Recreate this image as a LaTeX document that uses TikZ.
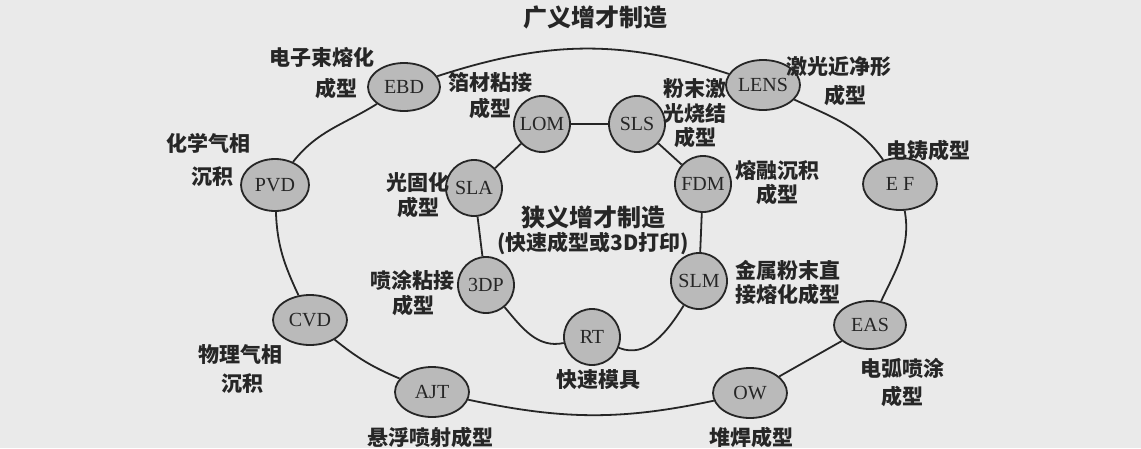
\documentclass[tikz,border=0pt]{standalone}
\usepackage{fontspec}
\setmainfont{Liberation Serif}
\newfontfamily\cjk{Noto Sans CJK SC}
\usetikzlibrary{shapes.geometric}
\definecolor{bgcol}{RGB}{234,234,234}
\definecolor{nodefill}{RGB}{186,186,186}
\definecolor{ink}{RGB}{38,38,38}
\tikzset{
  outernode/.style={ellipse, draw=ink, line width=1.8pt, fill=nodefill, inner sep=0pt,
    font=\fontsize{20}{20}\selectfont, text=ink},
  innernode/.style={circle, draw=ink, line width=1.8pt, fill=nodefill, inner sep=0pt,
    minimum size=56pt, font=\fontsize{20}{20}\selectfont, text=ink},
  lbl/.style={font=\cjk\bfseries\fontsize{21}{21}\selectfont, text=ink, inner sep=0pt},
  bigtitle/.style={font=\cjk\bfseries\fontsize{24}{24}\selectfont, text=ink, inner sep=0pt},
  conn/.style={draw=ink, line width=1.8pt},
}
\begin{document}
\begin{tikzpicture}[x=1pt,y=1pt]
\fill[bgcol] (0,0) rectangle (1141,-448);
\useasboundingbox (0,0) rectangle (1141,-448);

% outer nodes
\node[outernode, minimum width=72pt, minimum height=48pt] (EBD) at (404,-87) {EBD};
\node[outernode, minimum width=74pt, minimum height=50pt] (LENS) at (763,-85) {LENS};
\node[outernode, minimum width=74pt, minimum height=52pt] (EF) at (900,-184) {E F};
\node[outernode, minimum width=72pt, minimum height=48pt] (EAS) at (870,-325) {EAS};
\node[outernode, minimum width=74pt, minimum height=50pt] (OW) at (750,-393) {OW};
\node[outernode, minimum width=74pt, minimum height=50pt] (AJT) at (432,-392) {AJT};
\node[outernode, minimum width=74pt, minimum height=50pt] (CVD) at (310,-320) {CVD};
\node[outernode, minimum width=68pt, minimum height=52pt] (PVD) at (275,-185) {PVD};

% inner nodes
\node[innernode] (LOM) at (542,-124) {LOM};
\node[innernode] (SLS) at (637,-124) {SLS};
\node[innernode] (FDM) at (703,-184) {FDM};
\node[innernode] (SLM) at (699,-281) {SLM};
\node[innernode] (RT) at (592,-337) {RT};
\node[innernode] (tdp) at (486,-285) {3DP};
\node[innernode] (SLA) at (474,-188) {SLA};

% outer connectors
\draw[conn] (EBD) to[out=18, in=162] (LENS);
\draw[conn] (LENS) to[out=-25, in=125] (EF);
\draw[conn] (EF) to[out=-80, in=65] (EAS);
\draw[conn] (EAS) -- (OW);
\draw[conn] (OW) to[out=192, in=-12] (AJT);
\draw[conn] (AJT) to[bend left=8] (CVD);
\draw[conn] (CVD) to[out=115, in=-88] (PVD);
\draw[conn] (PVD) to[out=52, in=212] (EBD);

% inner connectors
\draw[conn] (LOM) -- (SLS);
\draw[conn] (SLS) -- (FDM);
\draw[conn] (FDM) -- (SLM);
\draw[conn] (SLM) to[out=-122, in=-22] (RT);
\draw[conn] (RT) to[out=192, in=-50] (tdp);
\draw[conn] (tdp) -- (SLA);
\draw[conn] (SLA) -- (LOM);

% titles
\node[bigtitle] (title) at (595,-17) {广义增才制造};
\node[bigtitle] (ctitle) at (593,-217) {狭义增才制造};
\node[lbl] (csub) at (593,-243) {(快速成型或3D打印)};

% labels
\node[lbl] (e1) at (322,-57) {电子束熔化};
\node[lbl] (e2) at (336,-88) {成型};
\node[lbl] (b1) at (490,-82) {箔材粘接};
\node[lbl] (b2) at (490,-108) {成型};
\node[lbl] (j1) at (839,-67) {激光近净形};
\node[lbl] (j2) at (845,-95) {成型};
\node[lbl] (f1) at (695,-89) {粉末激};
\node[lbl] (f2) at (695,-113) {光烧结};
\node[lbl] (f3) at (695,-137) {成型};
\node[lbl] (d1) at (928,-150) {电铸成型};
\node[lbl] (h1) at (208,-143) {化学气相};
\node[lbl] (h2) at (212,-177) {沉积};
\node[lbl] (g1) at (418,-182) {光固化};
\node[lbl] (g2) at (418,-207) {成型};
\node[lbl] (r1) at (777,-170) {熔融沉积};
\node[lbl] (r2) at (777,-194) {成型};
\node[lbl] (p1) at (412,-280) {喷涂粘接};
\node[lbl] (p2) at (413,-305) {成型};
\node[lbl] (m1) at (788,-270) {金属粉末直};
\node[lbl] (m2) at (788,-294) {接熔化成型};
\node[lbl] (w1) at (240,-355) {物理气相};
\node[lbl] (w2) at (242,-384) {沉积};
\node[lbl] (x1) at (430,-437) {悬浮喷射成型};
\node[lbl] (k1) at (598,-380) {快速模具};
\node[lbl] (o1) at (751,-437) {堆焊成型};
\node[lbl] (a1) at (902,-368) {电弧喷涂};
\node[lbl] (a2) at (902,-396) {成型};
\end{tikzpicture}
\end{document}
